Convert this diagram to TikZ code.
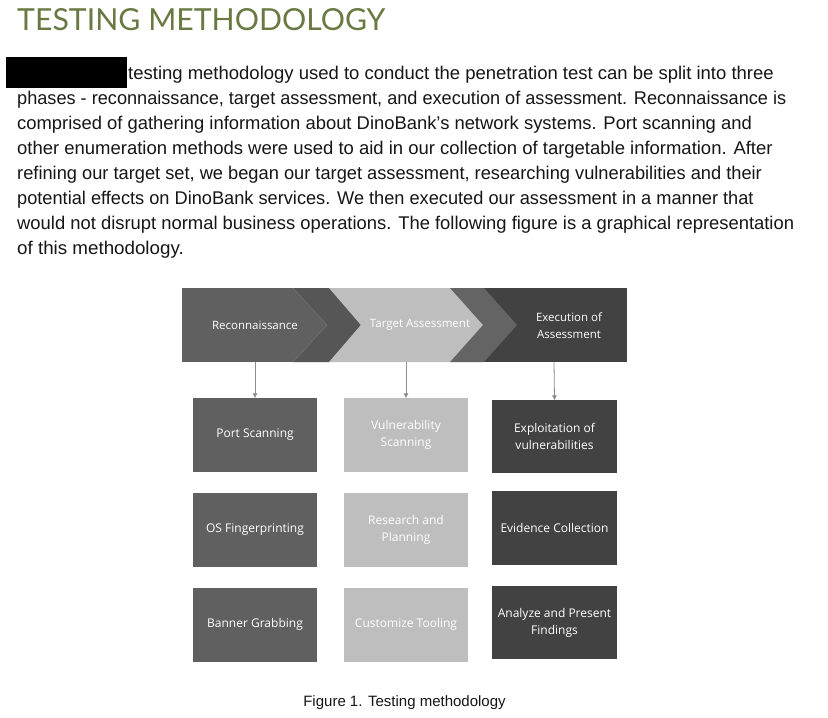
\documentclass[tikz,border=0pt]{standalone}
\usepackage{fontspec}
\setmainfont{Liberation Sans}
\newfontfamily\boxfont{Open Sans}
\newfontfamily\titlefont{Lato}
\usetikzlibrary{arrows.meta}
\definecolor{titlegreen}{RGB}{104,122,66}
\definecolor{colA}{RGB}{96,96,96}
\definecolor{colB}{RGB}{190,190,190}
\definecolor{colC}{RGB}{66,66,66}
\definecolor{chevA}{RGB}{86,86,86}
\definecolor{chevB}{RGB}{100,100,100}
\definecolor{faintline}{RGB}{112,112,112}
\definecolor{arrowgray}{RGB}{140,140,140}
\definecolor{bodytext}{RGB}{22,22,22}
\begin{document}
\begin{tikzpicture}[x=1pt,y=-1pt,
  bodyline/.style={anchor=base west, inner sep=0, font=\fontsize{18.4}{22}\selectfont, text=bodytext},
  stagebox/.style={rectangle, inner sep=0, minimum width=124pt, minimum height=74pt, text=white, align=center, font=\boxfont\fontsize{12}{17}\selectfont},
  headlabel/.style={inner sep=0, text=white, align=center, font=\boxfont\fontsize{11.5}{17}\selectfont},
  flow/.style={draw=arrowgray, line width=0.8pt, -{Triangle[length=4.5pt,width=4.5pt]}}
]
\useasboundingbox (0,0) rectangle (828,718);
\fill[white] (0,0) rectangle (828,718);
\node[anchor=north west, inner sep=0, text=titlegreen] (title) at (17,8) {\resizebox{368pt}{22pt}{\titlefont TESTING METHODOLOGY}};
\fill[black] (6,57) rectangle (127,88);
\node[bodyline] (l1) at (128,79) {\scalebox{1.005}[1]{testing methodology used to conduct the penetration test can be split into three}};
\node[bodyline] (l2) at (17,104) {\scalebox{0.986}[1]{phases - reconnaissance, target assessment, and execution of assessment. Reconnaissance is}};
\node[bodyline] (l3) at (17,129) {comprised of gathering information about DinoBank’s network systems. Port scanning and};
\node[bodyline] (l4) at (17,154) {\scalebox{1.004}[1]{other enumeration methods were used to aid in our collection of targetable information. After}};
\node[bodyline] (l5) at (17,179) {\scalebox{0.992}[1]{refining our target set, we began our target assessment, researching vulnerabilities and their}};
\node[bodyline] (l6) at (17,204) {\scalebox{0.989}[1]{potential effects on DinoBank services. We then executed our assessment in a manner that}};
\node[bodyline] (l7) at (17,229) {would not disrupt normal business operations. The following figure is a graphical representation};
\node[bodyline] (l8) at (17,254) {\scalebox{1.02}[1]{of this methodology.}};
% header band
\fill[colA] (182,288) rectangle (331,362);
\fill[chevA] (293,288) -- (330,288) -- (361,325) -- (330,362) -- (293,362) -- (327,325) -- cycle;
\draw[faintline, line width=0.6pt] (293,288) -- (327,325) -- (293,362);
\fill[colB] (329,288) -- (450,288) -- (483,325) -- (450,362) -- (329,362) -- (361,325) -- cycle;
\fill[colC] (483,288) rectangle (627,362);
\fill[chevB] (450,288) -- (484,288) -- (517,325) -- (484,362) -- (450,362) -- (483,325) -- cycle;
\node[headlabel] (h1) at (255,325) {Reconnaissance};
\node[headlabel] (h2) at (420,325) {Target Assessment};
\node[headlabel] (h3) at (569,326) {Execution of\\Assessment};
\coordinate (s1) at (255,362);
\coordinate (s2) at (406,362);
\coordinate (s3) at (554,362);
% boxes
\node[stagebox, fill=colA] (a1) at (255,435) {Port Scanning};
\node[stagebox, fill=colA] (a2) at (255,530) {OS Fingerprinting};
\node[stagebox, fill=colA] (a3) at (255,624.5) {Banner Grabbing};
\node[stagebox, fill=colB] (b1) at (406,435) {Vulnerability\\Scanning};
\node[stagebox, fill=colB] (b2) at (406,530) {Research and\\Planning};
\node[stagebox, fill=colB] (b3) at (406,624.5) {Customize Tooling};
\node[stagebox, fill=colC, minimum width=125pt, minimum height=73pt] (c1) at (554.5,436.5) {Exploitation of\\vulnerabilities};
\node[stagebox, fill=colC, minimum width=125pt, minimum height=74pt] (c2) at (554.5,528) {Evidence Collection};
\node[stagebox, fill=colC, minimum width=125pt, minimum height=73pt] (c3) at (554.5,622.5) {Analyze and Present\\Findings};
\draw[flow] (s1) -- (a1.north);
\draw[flow] (s2) -- (b1.north);
\draw[flow] (s3) -- (c1.north);
\node[inner sep=0, font=\fontsize{15}{17}\selectfont, text=bodytext] (cap) at (404.5,703) {Figure 1. Testing methodology};
\end{tikzpicture}
\end{document}
